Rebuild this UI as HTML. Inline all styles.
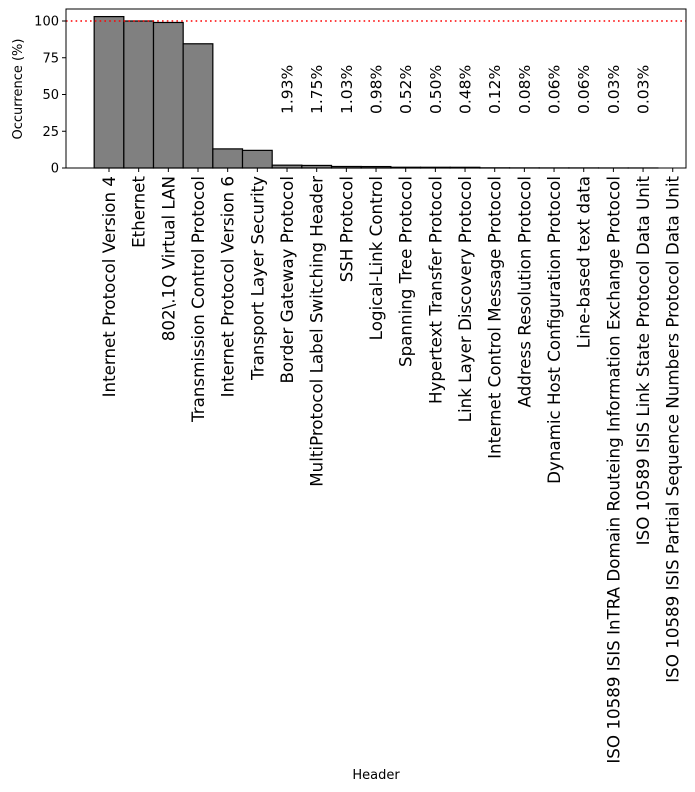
<!DOCTYPE html>
<html><head><meta charset="utf-8"><style>body{margin:0;background:#fff}svg{display:block}text{font-family:"DejaVu Sans","Liberation Sans",sans-serif;fill:#000}</style></head><body>
<svg width="695" height="792" viewBox="0 0 695 792" xmlns="http://www.w3.org/2000/svg">
<g id="bars" fill="#808080" stroke="#000" stroke-width="1.2"></g>
<line x1="66" y1="21" x2="686" y2="21" stroke="#f00" stroke-width="1.6" stroke-dasharray="1.6,3.2"/>
<rect x="66" y="9" width="620" height="159" fill="none" stroke="#000" stroke-width="1"/>
<g font-size="13" text-anchor="end">
<line x1="62" y1="168" x2="66" y2="168" stroke="#000"/><text x="59" y="172.5">0</text>
<line x1="62" y1="131.25" x2="66" y2="131.25" stroke="#000"/><text x="59" y="135.75">25</text>
<line x1="62" y1="94.5" x2="66" y2="94.5" stroke="#000"/><text x="59" y="99">50</text>
<line x1="62" y1="57.75" x2="66" y2="57.75" stroke="#000"/><text x="59" y="62.25">75</text>
<line x1="62" y1="21" x2="66" y2="21" stroke="#000"/><text x="59" y="25.5">100</text>
</g>
<text font-size="13" text-anchor="middle" transform="translate(22,89) rotate(-90)">Occurrence (%)</text>
<text font-size="13" text-anchor="middle" x="376" y="779">Header</text>
<g id="ticks"></g>
<script>
var names=["Internet Protocol Version 4","Ethernet","802\\.1Q Virtual LAN","Transmission Control Protocol","Internet Protocol Version 6","Transport Layer Security","Border Gateway Protocol","MultiProtocol Label Switching Header","SSH Protocol","Logical-Link Control","Spanning Tree Protocol","Hypertext Transfer Protocol","Link Layer Discovery Protocol","Internet Control Message Protocol","Address Resolution Protocol","Dynamic Host Configuration Protocol","Line-based text data","ISO 10589 ISIS InTRA Domain Routeing Information Exchange Protocol","ISO 10589 ISIS Link State Protocol Data Unit","ISO 10589 ISIS Partial Sequence Numbers Protocol Data Unit"];
var vals=[103,100,99,84.5,13,12,1.93,1.75,1.03,0.98,0.52,0.5,0.48,0.12,0.08,0.06,0.06,0.03,0.03,0];
var ann={6:"1.93%",7:"1.75%",8:"1.03%",9:"0.98%",10:"0.52%",11:"0.50%",12:"0.48%",13:"0.12%",14:"0.08%",15:"0.06%",16:"0.06%",17:"0.03%",18:"0.03%"};
var ns="http://www.w3.org/2000/svg",b=document.getElementById("bars"),t=document.getElementById("ticks");
var s=29.67;
for(var i=0;i<20;i++){var x=109+s*i;
 if(i<19){var r=document.createElementNS(ns,"rect");var h=vals[i]*1.47;r.setAttribute("x",x-s/2);r.setAttribute("y",168-h);r.setAttribute("width",s);r.setAttribute("height",h);b.appendChild(r);}
 var l=document.createElementNS(ns,"line");l.setAttribute("x1",x);l.setAttribute("x2",x);l.setAttribute("y1",168);l.setAttribute("y2",172);l.setAttribute("stroke","#000");t.appendChild(l);
 var tx=document.createElementNS(ns,"text");tx.setAttribute("font-size","16.7");tx.setAttribute("text-anchor","end");tx.setAttribute("transform","translate("+(x+6)+",176) rotate(-90)");tx.textContent=names[i];t.appendChild(tx);
 if(ann[i]){var a=document.createElementNS(ns,"text");a.setAttribute("font-size","15.5");a.setAttribute("transform","translate("+(x+5.5)+",114) rotate(-90)");a.textContent=ann[i];t.appendChild(a);}
}
</script>
</svg>
</body></html>
